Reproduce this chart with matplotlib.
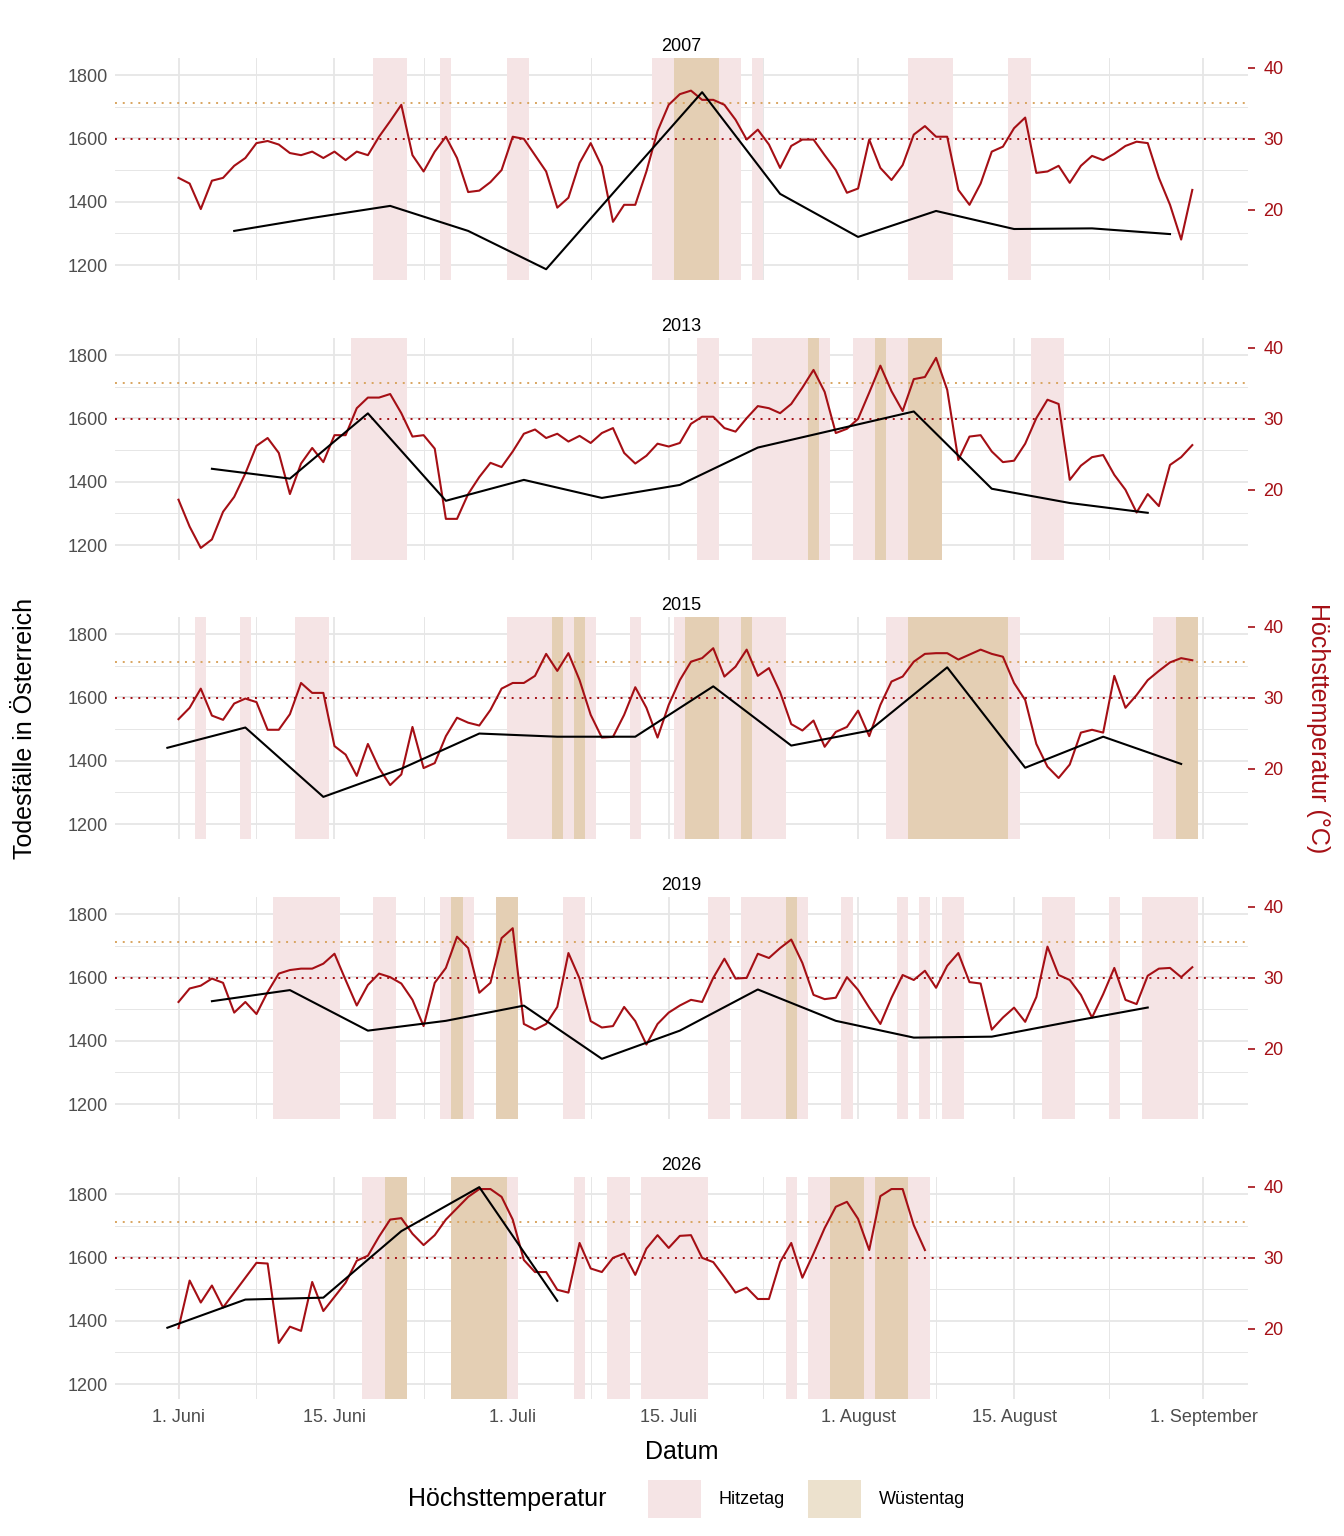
import matplotlib
matplotlib.use("Agg")
import matplotlib.pyplot as plt
from matplotlib.patches import Patch
import numpy as np

plt.rcParams['font.family'] = ['Liberation Sans', 'DejaVu Sans']

years = ["2007", "2013", "2015", "2019", "2026"]

# daily maximum temperature (°C), day 0 = 1. Juni
temp_2007 = [24.5,23.7,20.1,24.1,24.5,26.2,27.3,29.4,29.7,29.2,28.0,27.7,28.2,27.3,28.2,27.0,28.2,27.7,30.3,32.5,
             34.8,27.7,25.4,28.2,30.3,27.3,22.5,22.7,23.9,25.6,30.3,30.0,27.7,25.4,20.3,21.7,26.6,29.4,26.1,18.3,
             20.7,20.7,25.4,31.1,34.8,36.3,36.8,35.5,35.5,34.8,32.7,29.9,31.3,29.2,25.9,29.0,29.9,29.9,27.7,25.6,
             22.4,23.0,29.9,25.9,24.2,26.3,30.6,31.8,30.3,30.3,22.8,20.7,23.7,28.2,28.9,31.5,33.0,25.2,25.4,26.2,
             23.8,26.2,27.6,27.0,27.9,29.0,29.6,29.4,24.5,20.7,15.8,22.8]
temp_2013 = [18.6,14.8,11.8,13.0,16.9,19.0,22.3,26.2,27.3,25.2,19.4,23.7,25.9,23.9,27.7,27.7,31.5,33.0,33.0,33.5,
             30.8,27.5,27.7,25.8,15.9,15.9,19.4,21.8,23.8,23.2,25.4,27.9,28.5,27.3,27.9,26.8,27.6,26.6,28.0,28.7,
             25.2,23.7,24.8,26.5,26.1,26.6,29.3,30.3,30.3,28.7,28.2,30.1,31.8,31.5,30.8,32.1,34.4,36.9,33.8,28.0,
             28.6,30.0,33.7,37.5,33.9,31.1,35.6,35.9,38.6,34.1,24.2,27.5,27.7,25.4,23.9,24.1,26.5,30.1,32.7,32.1,
             21.4,23.4,24.6,24.9,22.1,20.0,16.8,19.4,17.7,23.5,24.6,26.3]
temp_2015 = [27.0,28.6,31.3,27.5,26.9,29.2,29.9,29.4,25.5,25.5,27.7,32.1,30.7,30.7,23.2,22.0,19.0,23.5,20.1,17.7,
             19.2,25.9,20.1,20.8,24.6,27.2,26.5,26.1,28.3,31.3,32.1,32.1,33.1,36.2,33.8,36.3,32.5,27.6,24.4,24.5,
             27.6,31.5,28.6,24.4,29.0,32.5,35.1,35.6,37.0,33.0,34.4,36.8,33.1,34.2,30.8,26.3,25.4,26.8,23.1,25.2,
             25.9,28.2,24.6,29.0,32.3,33.0,35.1,36.2,36.3,36.3,35.4,36.1,36.8,36.2,35.8,32.1,29.7,23.5,20.3,18.7,
             20.6,25.1,25.5,25.1,33.1,28.6,30.4,32.5,33.8,35.0,35.6,35.3]
temp_2019 = [26.6,28.5,28.9,29.9,29.3,25.1,26.6,24.9,28.0,30.6,31.1,31.3,31.3,32.0,33.4,29.7,26.1,29.0,30.6,30.1,
             29.2,26.9,23.2,29.3,31.4,35.8,34.2,27.9,29.3,35.6,37.0,23.5,22.7,23.5,25.9,33.5,29.9,23.9,23.0,23.2,
             25.9,23.9,20.6,23.5,25.1,26.1,26.9,26.6,30.0,32.7,29.9,30.0,33.4,32.8,34.2,35.4,32.1,27.6,27.0,27.2,
             30.1,28.3,25.8,23.5,27.2,30.4,29.7,31.0,28.6,31.7,33.5,29.4,29.2,22.7,24.4,25.8,23.8,27.3,34.4,30.4,
             29.7,27.6,24.4,27.7,31.4,26.9,26.3,30.3,31.3,31.4,30.1,31.5]
temp_2026 = [20.1,26.8,23.7,26.1,23.0,25.1,27.2,29.3,29.2,18.0,20.3,19.7,26.6,22.5,24.5,26.5,29.6,30.3,33.0,35.4,
             35.6,33.4,31.8,33.2,35.4,37.0,38.6,39.7,39.7,38.6,35.4,29.7,28.0,28.0,25.5,25.1,32.1,28.5,28.0,30.0,
             30.6,27.6,31.3,33.2,31.4,33.1,33.2,30.0,29.4,27.3,25.1,25.8,24.2,24.2,29.4,32.1,27.2,30.6,34.2,37.2,
             37.9,35.5,31.1,38.7,39.7,39.7,34.6,31.1]

# weekly deaths: day index and value
death_days_2007 = [5, 12, 19, 26, 33, 40, 47, 54, 61, 68, 75, 82, 89]
deaths_2007 = [1308, 1349, 1387, 1308, 1187, 1467, 1746, 1425, 1289, 1371, 1314, 1316, 1298]
death_days_2013 = [3, 10, 17, 24, 31, 38, 45, 52, 59, 66, 73, 80, 87]
deaths_2013 = [1441, 1410, 1616, 1340, 1406, 1349, 1390, 1508, 1565, 1622, 1378, 1333, 1302]
death_days_2015 = [-1, 6, 13, 20, 27, 34, 41, 48, 55, 62, 69, 76, 83, 90]
deaths_2015 = [1441, 1505, 1286, 1375, 1486, 1476, 1476, 1635, 1448, 1495, 1695, 1378, 1476, 1390]
death_days_2019 = [3, 10, 17, 24, 31, 38, 45, 52, 59, 66, 73, 80, 87]
deaths_2019 = [1525, 1560, 1432, 1463, 1511, 1343, 1432, 1562, 1463, 1410, 1413, 1460, 1505]
death_days_2026 = [-1, 6, 13, 20, 27, 34]
deaths_2026 = [1378, 1467, 1473, 1683, 1822, 1463]

# shaded day ranges (inclusive)
hitze_2007 = [(18,20),(24,24),(30,31),(43,50),(52,52),(66,69),(75,76)]
wueste_2007 = [(45,48)]
hitze_2013 = [(16,20),(47,48),(52,58),(61,68),(77,79)]
wueste_2013 = [(57,57),(63,63),(66,68)]
hitze_2015 = [(2,2),(6,6),(11,13),(30,37),(41,41),(45,54),(64,75),(88,91)]
wueste_2015 = [(34,34),(36,36),(46,48),(51,51),(66,74),(90,91)]
hitze_2019 = [(9,14),(18,19),(24,26),(29,30),(35,36),(48,49),(51,56),(60,60),(65,65),(67,67),(69,70),(78,80),(84,84),(87,91)]
wueste_2019 = [(25,25),(29,30),(55,55)]
hitze_2026 = [(17,20),(25,30),(36,36),(39,40),(42,47),(55,55),(57,67)]
wueste_2026 = [(19,20),(25,29),(59,61),(63,65)]

xtick_days = [0, 14, 30, 44, 61, 75, 92]
xtick_labels = ["1. Juni", "15. Juni", "1. Juli", "15. Juli", "1. August", "15. August", "1. September"]

temps = [temp_2007, temp_2013, temp_2015, temp_2019, temp_2026]
ddays = [death_days_2007, death_days_2013, death_days_2015, death_days_2019, death_days_2026]
deaths = [deaths_2007, deaths_2013, deaths_2015, deaths_2019, deaths_2026]
hitze = [hitze_2007, hitze_2013, hitze_2015, hitze_2019, hitze_2026]
wueste = [wueste_2007, wueste_2013, wueste_2015, wueste_2019, wueste_2026]

RED = "#a50f15"
HITZE = "#f5e4e5"
WUESTE = "#e4cfb4"
WUESTE_LEG = "#ece1cd"
GRID = "#e6e6e6"
ORANGE = "#d9a560"

W, H = 1344, 1536
fig = plt.figure(figsize=(W/100, H/100), dpi=100)
left, right = 115/W, 1248/W
tops = [58, 338, 617, 897, 1177]
ph = 222
FS = 13

minor_days = [(a+b)/2 for a, b in zip(xtick_days[:-1], xtick_days[1:])]

for i, y in enumerate(years):
    ax = fig.add_axes([left, 1-(tops[i]+ph)/H, right-left, ph/H])
    ax.set_xlim(-5.7, 96)
    ax.set_ylim(1153, 1854)
    for s in ax.spines.values():
        s.set_visible(False)
    ax.set_xticks(xtick_days)
    ax.set_xticks(minor_days, minor=True)
    ax.set_yticks([1200, 1400, 1600, 1800])
    ax.set_yticks([1300, 1500, 1700], minor=True)
    ax.grid(True, which='major', color=GRID, lw=1.3, zorder=0)
    ax.grid(True, which='minor', color=GRID, lw=0.7, zorder=0)
    ax.set_axisbelow(True)
    ax.tick_params(which='both', length=0)
    ax.tick_params(axis='y', labelsize=FS, labelcolor='#4d4d4d', pad=5)
    if i == 4:
        ax.set_xticklabels(xtick_labels, fontsize=FS, color='#4d4d4d')
        ax.tick_params(axis='x', pad=7)
    else:
        ax.set_xticklabels([])
    for a, b in hitze[i]:
        ax.axvspan(a-0.5, b+0.5, color=HITZE, lw=0, zorder=1)
    for a, b in wueste[i]:
        ax.axvspan(a-0.5, b+0.5, color=WUESTE, lw=0, zorder=1.1)
    ax.set_title(y, fontsize=FS, pad=5)

    ax2 = ax.twinx()
    ax2.set_ylim(10.1, 41.4)
    for s in ax2.spines.values():
        s.set_visible(False)
    ax2.set_yticks([20, 30, 40])
    ax2.tick_params(axis='y', colors=RED, labelsize=FS, length=5, width=1.2, pad=6)
    ax2.axhline(30, color=RED, ls=(0, (1, 3)), lw=1.4, zorder=2)
    ax2.axhline(35, color=ORANGE, ls=(0, (1, 3)), lw=1.4, zorder=2)
    ax2.plot(np.arange(len(temps[i])), temps[i], color=RED, lw=1.5, zorder=3)
    ax3 = ax.twinx()
    ax3.set_ylim(1153, 1854)
    ax3.axis('off')
    ax3.plot(ddays[i], deaths[i], color='black', lw=1.5)

fig.text(25/W, 1-728/H, "Todesfälle in Österreich", rotation=90, ha='center', va='center', fontsize=18)
fig.text(1318/W, 1-728/H, "Höchsttemperatur (°C)", rotation=-90, ha='center', va='center', fontsize=18, color=RED)
fig.text((left+right)/2, 1-1452/H, "Datum", ha='center', va='center', fontsize=18)
fig.text(507/W, 1-1499/H, "Höchsttemperatur", ha='center', va='center', fontsize=18)
handles = [Patch(facecolor=HITZE, label="Hitzetag"), Patch(facecolor=WUESTE_LEG, label="Wüstentag")]
fig.legend(handles=handles, loc='center left', bbox_to_anchor=(632/W, 1-1499/H), ncol=2,
           frameon=False, fontsize=FS, handlelength=2.9, handleheight=2.9, columnspacing=1.3, handletextpad=1.0)

fig.savefig("out.png", dpi=100)
